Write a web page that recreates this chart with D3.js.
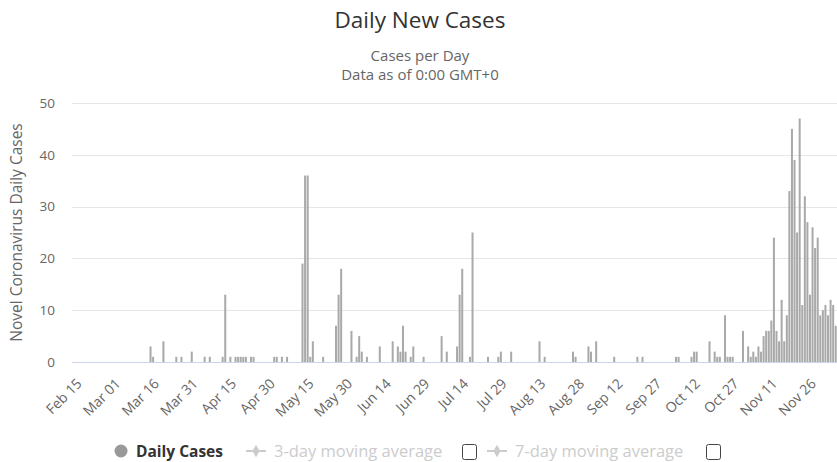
<!DOCTYPE html>
<html>
<head>
<meta charset="utf-8">
<script src="https://cdn.jsdelivr.net/npm/d3@7"></script>
<style>
  body { margin: 0; background: #fff; }
  svg { display: block; font-family: "Open Sans", sans-serif; }
</style>
</head>
<body>
<div id="chart"></div>
<script>
// daily new cases, one row per 15 days starting Feb 15
var dailyCases = [
  0,0,0,0,0,0,0,0,0,0,0,0,0,0,0,
  0,0,0,0,0,0,0,0,0,0,0,0,0,0,0,
  3,1,0,0,0,4,0,0,0,0,1,0,1,0,0,
  0,2,0,0,0,0,1,0,1,0,0,0,0,1,13,
  0,1,0,1,1,1,1,1,0,1,1,0,0,0,0,
  0,0,0,1,1,0,1,0,1,0,0,0,0,0,19,
  36,36,1,4,0,0,0,1,0,0,0,0,7,13,18,
  0,0,0,6,0,1,5,2,0,1,0,0,0,0,3,
  0,0,0,0,4,0,3,2,7,2,0,1,3,0,0,
  0,1,0,0,0,0,0,0,5,0,2,0,0,0,3,
  13,18,0,0,1,25,0,0,0,0,0,1,0,0,0,
  1,2,0,0,0,2,0,0,0,0,0,0,0,0,0,
  0,4,0,1,0,0,0,0,0,0,0,0,0,0,2,
  1,0,0,0,0,3,2,0,4,0,0,0,0,0,0,
  1,0,0,0,0,0,0,0,0,1,0,1,0,0,0,
  0,0,0,0,0,0,0,0,0,1,1,0,0,0,0,
  1,2,2,0,0,0,0,4,0,2,1,1,0,9,1,
  1,1,0,0,0,6,0,3,1,2,1,3,2,5,6,
  6,8,24,6,4,12,4,9,33,45,39,25,47,11,32,
  27,13,26,22,24,9,10,11,9,12,11,7
];
var startDate = new Date(2020, 1, 15);
var categories = d3.timeDay.range(startDate, d3.timeDay.offset(startDate, dailyCases.length));
var yTicks = [0, 10, 20, 30, 40, 50];
var tickEvery = 15;
var legendItems = ["Daily Cases", "3-day moving average", "7-day moving average"];

var width = 837, height = 462;
var margin = {left: 72, right: 0, top: 103, bottom: 100};
var fmt = d3.timeFormat("%b %d");

var svg = d3.select("#chart").append("svg")
  .attr("width", width).attr("height", height);

var x = d3.scaleBand()
  .domain(d3.range(categories.length))
  .range([margin.left, width - margin.right])
  .paddingInner(0.22).paddingOuter(0.1);

var y = d3.scaleLinear().domain([0, 50]).range([362, 103]);

// titles
svg.append("text").attr("x", 420).attr("y", 28)
  .attr("text-anchor", "middle").attr("fill", "#333")
  .style("font-size", "22.5px").text("Daily New Cases");
svg.append("text").attr("x", 420).attr("y", 61)
  .attr("text-anchor", "middle").attr("fill", "#666")
  .style("font-size", "15px").text("Cases per Day");
svg.append("text").attr("x", 420).attr("y", 80)
  .attr("text-anchor", "middle").attr("fill", "#666")
  .style("font-size", "15px").text("Data as of 0:00 GMT+0");

// grid
svg.append("g").selectAll("line").data(yTicks).enter().append("line")
  .attr("x1", margin.left).attr("x2", width)
  .attr("y1", function(d) { return Math.round(y(d)) + 0.5; })
  .attr("y2", function(d) { return Math.round(y(d)) + 0.5; })
  .attr("stroke", function(d) { return d === 0 ? "#ccd6eb" : "#e6e6e6"; });

// y labels
svg.append("g").selectAll("text").data(yTicks).enter().append("text")
  .attr("x", 55).attr("y", function(d) { return y(d); })
  .attr("dy", "0.35em").attr("text-anchor", "end")
  .attr("fill", "#666").style("font-size", "13.5px")
  .text(function(d) { return d; });

svg.append("text")
  .attr("transform", "translate(22," + ((y(0) + y(50)) / 2) + ") rotate(-90)")
  .attr("text-anchor", "middle").attr("fill", "#666")
  .style("font-size", "15.5px").text("Novel Coronavirus Daily Cases");

// bars
svg.append("g").selectAll("rect")
  .data(dailyCases.map(function(v, i) { return {i: i, v: v}; })
    .filter(function(d) { return d.v > 0; }))
  .enter().append("rect")
  .attr("x", function(d) { return x(d.i); })
  .attr("width", x.bandwidth())
  .attr("y", function(d) { return y(d.v); })
  .attr("height", function(d) { return y(0) - y(d.v); })
  .attr("fill", "#a9a9a9");

// x labels
var tickIdx = d3.range(0, categories.length, tickEvery);
svg.append("g").selectAll("text").data(tickIdx).enter().append("text")
  .attr("transform", function(i) {
    return "translate(" + (x(i) + x.bandwidth() / 2 + 6) + ",381) rotate(-45)";
  })
  .attr("text-anchor", "end").attr("dy", "0.35em")
  .attr("fill", "#666").style("font-size", "14px")
  .text(function(i) { return fmt(categories[i]); });

// legend
var lg = svg.append("g").style("font-size", "15.5px");
lg.append("circle").attr("cx", 121).attr("cy", 451).attr("r", 6.5).attr("fill", "#999");
lg.append("text").attr("x", 136).attr("y", 456.5).attr("fill", "#333")
  .style("font-weight", "bold").text(legendItems[0]);

[{sx: 246, tx: 274, bx: 462}, {sx: 487, tx: 515, bx: 706}].forEach(function(p, k) {
  lg.append("line").attr("x1", p.sx).attr("x2", p.sx + 20)
    .attr("y1", 451).attr("y2", 451).attr("stroke", "#ccc").attr("stroke-width", 2);
  lg.append("path").attr("d", d3.symbol(d3.symbolDiamond, 45)())
    .attr("transform", "translate(" + (p.sx + 10) + ",451)").attr("fill", "#ccc");
  lg.append("text").attr("x", p.tx).attr("y", 456.5).attr("fill", "#ccc")
    .style("font-size", "16.5px").text(legendItems[k + 1]);
  lg.append("rect").attr("x", p.bx + 0.5).attr("y", 444.5).attr("width", 14).attr("height", 15)
    .attr("rx", 2).attr("fill", "#fff").attr("stroke", "#444");
});
</script>
</body>
</html>
